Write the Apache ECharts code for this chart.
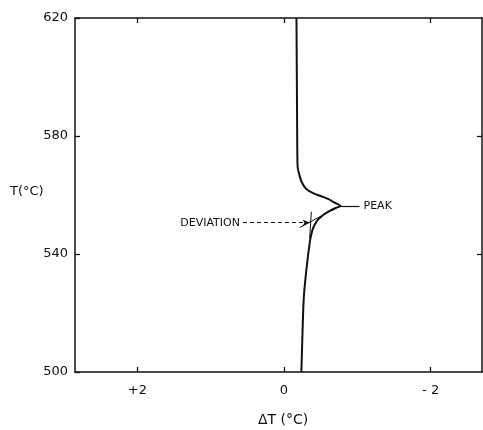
<!DOCTYPE html>
<html>
<head>
<meta charset="utf-8">
<script src="https://cdn.jsdelivr.net/npm/echarts@6/dist/echarts.min.js"></script>
<style>html,body{margin:0;padding:0;background:#fff}#c{width:483px;height:430px}</style>
</head>
<body>
<div id="c"></div>
<script>
// ---- data ----
var curveDT = [-0.17, -0.175, -0.18, -0.186, -0.214, -0.241, -0.282, -0.322, -0.39, -0.458, -0.54, -0.608, -0.676, -0.771, -0.703, -0.622, -0.554, -0.499, -0.458, -0.424, -0.397, -0.377, -0.356, -0.305, -0.268, -0.237];
var curveT  = [620, 600, 580, 569.5, 566.4, 564.4, 562.7, 561.7, 560.7, 560.0, 559.3, 558.6, 557.6, 556.3, 555.6, 554.6, 553.6, 552.5, 551.5, 550.2, 548.8, 547.1, 544.7, 534.6, 524.4, 500];
var baselineTangentDT = [-0.373, -0.35];
var baselineTangentT  = [554.3, 545.3];
var edgeTangentDT = [-0.214, -0.77];
var edgeTangentT  = [549.0, 556.3];
var peakLineDT = [-0.77, -1.03];
var peakLineT  = [556.3, 556.3];
var deviationDT = [0.56, -0.35];
var deviationT  = [550.6, 550.6];
var xTickValues = [2, 0, -2];
var xTickLabels = ['+2', '0', '- 2'];
var yTickValues = [500, 540, 580, 620];
var yTickLabels = ['500', '540', '580', '620'];

function pairs(xs, ys){ return xs.map(function(x,i){ return [x, ys[i]]; }); }

var FONT = 'DejaVu Sans';
var INK = '#111';
var axisCommon = {
  type: 'value', splitLine: {show:false},
  axisLine: {show:true, onZero:false, lineStyle:{color:INK, width:1.5}},
  axisTick: {show:true, inside:true, length:5, lineStyle:{color:INK, width:1.3}}
};
var chart = echarts.init(document.getElementById('c'), null, {renderer:'canvas'});
chart.setOption({
  animation: false,
  backgroundColor: '#fff',
  grid: {left: 75, right: 1, top: 18, bottom: 58},
  xAxis: [
    Object.assign({}, axisCommon, {
      position:'bottom', min:-2.7, max:2.85, inverse:true,
      axisTick: Object.assign({}, axisCommon.axisTick, {customValues: xTickValues}),
      axisLabel: {customValues: xTickValues, margin: 12, color: INK, fontFamily: FONT, fontSize: 13,
        formatter: function(v){ return xTickLabels[xTickValues.indexOf(v)]; }}
    }),
    Object.assign({}, axisCommon, {
      position:'top', min:-2.7, max:2.85, inverse:true,
      axisTick: Object.assign({}, axisCommon.axisTick, {customValues: xTickValues}),
      axisLabel: {show:false}
    })
  ],
  yAxis: [
    Object.assign({}, axisCommon, {
      position:'left', min:500, max:620,
      axisTick: Object.assign({}, axisCommon.axisTick, {customValues: yTickValues}),
      axisLabel: {customValues: yTickValues, margin: 7, color: INK, fontFamily: FONT, fontSize: 13,
        formatter: function(v){ return yTickLabels[yTickValues.indexOf(v)]; }}
    }),
    Object.assign({}, axisCommon, {
      position:'right', min:500, max:620,
      axisTick: Object.assign({}, axisCommon.axisTick, {customValues: [540, 580]}),
      axisLabel: {show:false}
    })
  ],
  graphic: [
    {type:'text', left: 10, top: 185, style:{text:'T(°C)', fill:INK, font:'13px "DejaVu Sans"'}},
    {type:'text', left: 258, top: 413, style:{text:'ΔT (°C)', fill:INK, font:'14px "DejaVu Sans"', letterSpacing: 3}}
  ],
  series: [
    {type:'line', data: pairs(curveDT, curveT), symbol:'none', smooth:0.2,
      lineStyle:{color:INK, width:2}, z:5},
    {type:'line', data: pairs(baselineTangentDT, baselineTangentT), symbol:'none',
      lineStyle:{color:INK, width:1}},
    {type:'line', data: pairs(edgeTangentDT, edgeTangentT), symbol:'none',
      lineStyle:{color:INK, width:1}},
    {type:'line', data: [], symbol:'none',
      markLine: {silent:true, symbol:['none','none'],
        lineStyle:{color:INK, width:1.2, type:'solid'},
        label:{show:true, position:'end', formatter:'PEAK', color:INK, fontFamily:FONT, fontSize:11, distance:4},
        data: [[{coord: [peakLineDT[0], peakLineT[0]]}, {coord: [peakLineDT[1], peakLineT[1]]}]]}},
    {type:'line', data: [], symbol:'none',
      markLine: {silent:true, symbol:['none','arrow'], symbolSize:[5,7],
        lineStyle:{color:INK, width:1, type:[4,3]},
        label:{show:true, position:'start', formatter:'DEVIATION', color:INK, fontFamily:FONT, fontSize:11, distance:3},
        data: [[{coord: [deviationDT[0], deviationT[0]]}, {coord: [deviationDT[1], deviationT[1]]}]]}}
  ]
});
</script>
</body>
</html>
